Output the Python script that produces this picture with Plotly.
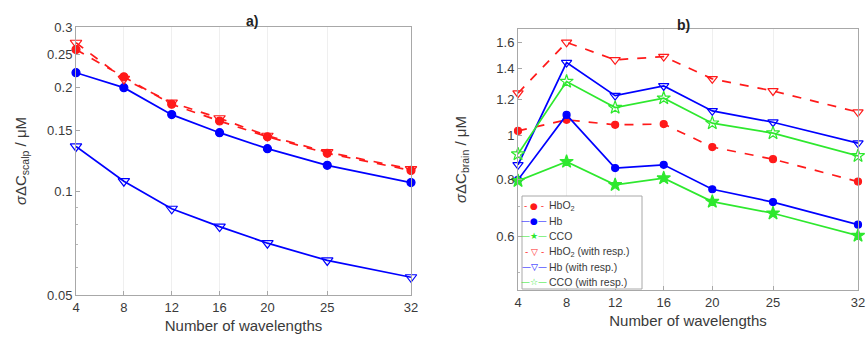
import plotly.graph_objects as go

# ---------------- data ----------------
wavelengths = [4, 8, 12, 16, 20, 25, 32]

# panel a) scalp
scalp_hbo2 = [0.258, 0.215, 0.179, 0.160, 0.144, 0.129, 0.115]
scalp_hb = [0.221, 0.200, 0.167, 0.148, 0.133, 0.119, 0.106]
scalp_hbo2_resp = [0.270, 0.212, 0.181, 0.163, 0.145, 0.130, 0.116]
scalp_hb_resp = [0.135, 0.107, 0.089, 0.079, 0.0707, 0.063, 0.0563]

# panel b) brain
brain_hbo2 = [1.023, 1.082, 1.055, 1.059, 0.943, 0.887, 0.792]
brain_hb = [0.799, 1.109, 0.848, 0.862, 0.762, 0.714, 0.637]
brain_cco = [0.795, 0.876, 0.779, 0.806, 0.716, 0.675, 0.603]
brain_hbo2_resp = [1.238, 1.600, 1.465, 1.489, 1.331, 1.252, 1.125]
brain_hb_resp = [0.862, 1.445, 1.223, 1.284, 1.132, 1.069, 0.962]
brain_cco_resp = [0.910, 1.313, 1.151, 1.207, 1.064, 1.012, 0.902]

scalp_ticks = [0.05, 0.1, 0.15, 0.2, 0.25, 0.3]
scalp_ticktext = ["0.05", "0.1", "0.15", "0.2", "0.25", "0.3"]
brain_ticks = [0.6, 0.8, 1.0, 1.2, 1.4, 1.6]
brain_ticktext = ["0.6", "0.8", "1", "1.2", "1.4", "1.6"]
x_ticktext = ["4", "8", "12", "16", "20", "25", "32"]

RED = "#ff1a1a"
BLUE = "#0000ff"
GREEN = "#2ee82e"
FONT = "Liberation Sans, Arial, sans-serif"
TXT = "#3a3a3a"

fig = go.Figure()


def add(x, y, name, color, dash, symbol, size, xa, ya, legend, show=True):
    fig.add_trace(go.Scatter(
        x=x, y=y, name=name, mode="lines+markers",
        line=dict(color=color, width=1.7, dash=dash),
        marker=dict(symbol=symbol, size=size, color=color,
                    line=dict(color=color, width=1.2)),
        xaxis=xa, yaxis=ya, legend=legend, cliponaxis=False, showlegend=show,
    ))


# panel a
add(wavelengths, scalp_hbo2, "HbO<sub>2</sub>", RED, "dash", "circle", 8, "x", "y", "legend")
add(wavelengths, scalp_hb, "Hb", BLUE, "solid", "circle", 8, "x", "y", "legend")
add(wavelengths, scalp_hbo2_resp, "HbO<sub>2</sub> (with resp.)", RED, "dash", "triangle-down-open", 10, "x", "y", "legend")
add(wavelengths, scalp_hb_resp, "Hb (with resp.)", BLUE, "solid", "triangle-down-open", 10, "x", "y", "legend")

# panel b (compact legend drawn as text below, like the original)
b_series = [
    (brain_hbo2, "HbO<sub>2</sub>", RED, "dash", "circle", 7, "- ● -"),
    (brain_hb, "Hb", BLUE, "solid", "circle", 7, "—●—"),
    (brain_cco, "CCO", GREEN, "solid", "star", 10, "—★—"),
    (brain_hbo2_resp, "HbO<sub>2</sub> (with resp.)", RED, "dash", "triangle-down-open", 9, "- ▽ -"),
    (brain_hb_resp, "Hb (with resp.)", BLUE, "solid", "triangle-down-open", 9, "—▽—"),
    (brain_cco_resp, "CCO (with resp.)", GREEN, "solid", "star-open", 10, "—☆—"),
]
for ys, name, col, dash, sym, sz, _ in b_series:
    add(wavelengths, ys, name, col, dash, sym, sz, "x2", "y2", "legend2", show=False)

W, H = 868, 343


def px_x(p):
    return p / W


def px_y(p):
    return 1 - p / H


axis_common = dict(
    showline=True, linecolor="#a8a8a8", linewidth=1, mirror=True,
    ticks="inside", ticklen=4, tickcolor="#a8a8a8",
    tickfont=dict(family=FONT, size=13, color=TXT),
    zeroline=False, automargin=False,
)

xa = dict(axis_common, range=[4, 32], tickvals=wavelengths, ticktext=x_ticktext,
          showgrid=True, gridcolor="#efefef",
          title=dict(text="Number of wavelengths", font=dict(family=FONT, size=15, color=TXT), standoff=6))

minor_scalp = [0.06, 0.07, 0.08, 0.09]
minor_brain = [0.5, 0.7, 0.9]

annotations = [
    dict(text="<b>a)</b>", x=px_x(244), y=px_y(11), xref="paper", yref="paper",
         showarrow=False, font=dict(family=FONT, size=14, color="#222")),
    dict(text="<b>b)</b>", x=px_x(692), y=px_y(15), xref="paper", yref="paper",
         showarrow=False, font=dict(family=FONT, size=14, color="#222")),
]
# compact legend for panel b
for i, (_, name, col, _d, _s, _z, glyph) in enumerate(b_series):
    yc = 206 + 15.2 * i
    annotations.append(dict(
        text=f'<span style="color:{col}">{glyph}</span>', x=px_x(534), y=px_y(yc),
        xref="paper", yref="paper", showarrow=False, xanchor="center", yanchor="middle",
        font=dict(family="DejaVu Sans", size=9, color=col)))
    annotations.append(dict(
        text=name, x=px_x(547), y=px_y(yc), xref="paper", yref="paper",
        showarrow=False, xanchor="left", yanchor="middle",
        font=dict(family=FONT, size=10.5, color=TXT)))

fig.update_layout(
    width=W, height=H,
    margin=dict(l=0, r=0, t=0, b=0),
    paper_bgcolor="white", plot_bgcolor="white",
    font=dict(family=FONT, color=TXT),
    xaxis=dict(xa, domain=[px_x(76), px_x(411)], anchor="y"),
    xaxis2=dict(xa, domain=[px_x(518), px_x(858)], anchor="y2"),
    yaxis=dict(axis_common, type="log", domain=[px_y(295), px_y(27)], anchor="x",
               range=[-1.30103, -0.52288], tickvals=scalp_ticks, ticktext=scalp_ticktext,
               showgrid=False,
               minor=dict(tickvals=minor_scalp, ticks="inside", ticklen=2, tickcolor="#b8b8b8"),
               title=dict(text="<i>σ</i>ΔC<sub>scalp</sub> / μM", font=dict(family=FONT, size=15, color=TXT), standoff=16)),
    yaxis2=dict(axis_common, type="log", domain=[px_y(290), px_y(29)], anchor="x2",
                range=[-0.3391, 0.2335], tickvals=brain_ticks, ticktext=brain_ticktext,
                showgrid=False,
                minor=dict(tickvals=minor_brain, ticks="inside", ticklen=2, tickcolor="#b8b8b8"),
                title=dict(text="<i>σ</i>ΔC<sub>brain</sub> / μM", font=dict(family=FONT, size=15, color=TXT), standoff=26)),
    legend=dict(x=px_x(276), y=px_y(29), xanchor="left", yanchor="top",
                bgcolor="white", bordercolor="#a8a8a8", borderwidth=1,
                font=dict(family=FONT, size=12, color=TXT), tracegroupgap=0,
                itemwidth=30),
    shapes=[dict(type="rect", xref="paper", yref="paper",
                 x0=px_x(522), x1=px_x(642), y0=px_y(289), y1=px_y(196),
                 fillcolor="white", line=dict(color="#a8a8a8", width=1), layer="above")],
    annotations=annotations,
)

fig.write_html("out.html")
